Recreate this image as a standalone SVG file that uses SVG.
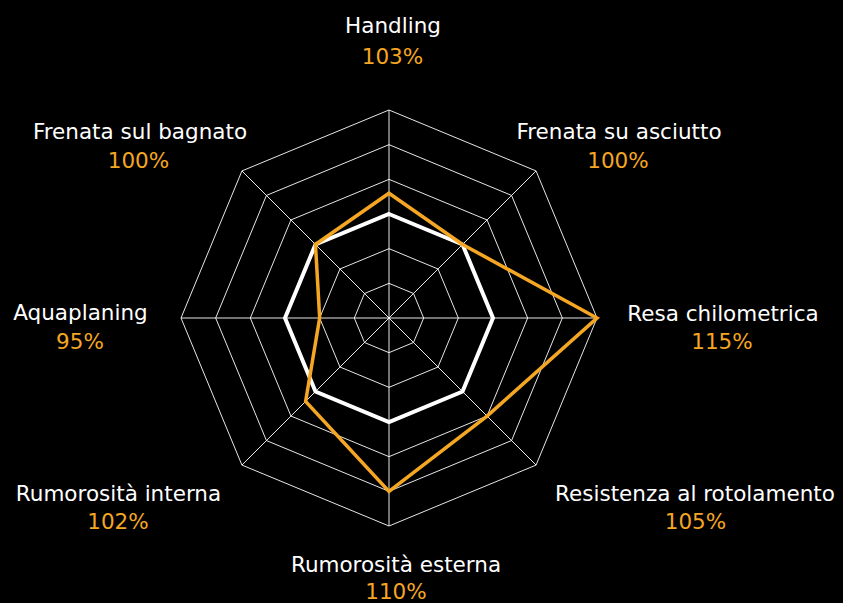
<svg xmlns="http://www.w3.org/2000/svg" width="843" height="603" viewBox="0 0 843 603">
  <style>
    .grid { fill: none; stroke: #ffffff; stroke-width: 1; stroke-opacity: 0.9; }
    .base { fill: none; stroke: #ffffff; stroke-width: 4; stroke-linejoin: miter; }
    .score { fill: none; stroke: #F5A623; stroke-width: 3.5; stroke-linejoin: miter; stroke-miterlimit: 10; }
    .name { font-family: "DejaVu Sans", "Open Sans", sans-serif; font-size: 21.5px; fill: #ffffff; text-anchor: middle; }
    .val { font-family: "DejaVu Sans", "Open Sans", sans-serif; font-size: 21.5px; fill: #F5A623; text-anchor: middle; }
  </style>
  <rect x="0" y="0" width="843" height="603" fill="#000000"/>
  <g id="chart" transform="translate(389,318)">
    <g id="grid">
      <polygon class="grid" points="0,-34.667 24.513,-24.513 34.667,0 24.513,24.513 0,34.667 -24.513,24.513 -34.667,0 -24.513,-24.513"/>
      <polygon class="grid" points="0,-69.333 49.026,-49.026 69.333,0 49.026,49.026 0,69.333 -49.026,49.026 -69.333,0 -49.026,-49.026"/>
      <polygon class="grid" points="0,-104 73.539,-73.539 104,0 73.539,73.539 0,104 -73.539,73.539 -104,0 -73.539,-73.539"/>
      <polygon class="grid" points="0,-138.667 98.052,-98.052 138.667,0 98.052,98.052 0,138.667 -98.052,98.052 -138.667,0 -98.052,-98.052"/>
      <polygon class="grid" points="0,-173.333 122.565,-122.565 173.333,0 122.565,122.565 0,173.333 -122.565,122.565 -173.333,0 -122.565,-122.565"/>
      <polygon class="grid" points="0,-208 147.078,-147.078 208,0 147.078,147.078 0,208 -147.078,147.078 -208,0 -147.078,-147.078"/>
    </g>
    <g id="connectors">
      <line class="grid" x1="0" y1="-208" x2="0" y2="208"/>
      <line class="grid" x1="-208" y1="0" x2="208" y2="0"/>
      <line class="grid" x1="-147.078" y1="-147.078" x2="147.078" y2="147.078"/>
      <line class="grid" x1="147.078" y1="-147.078" x2="-147.078" y2="147.078"/>
    </g>
    <polygon id="baseline" class="base" points="0,-104 73.539,-73.539 104,0 73.539,73.539 0,104 -73.539,73.539 -104,0 -73.539,-73.539"/>
    <polygon id="series" class="score" points="0,-124.8 73.54,-73.54 208,0 98.05,98.05 0,173.33 -83.37,83.37 -69.33,0 -73.54,-73.54"/>
  </g>
  <g id="handling"><text class="name" x="393" y="33">Handling</text><text class="val" x="392.5" y="64">103%</text></g>
  <g id="frenata-asciutto"><text class="name" x="619" y="139">Frenata su asciutto</text><text class="val" x="618" y="168">100%</text></g>
  <g id="resa"><text class="name" x="723" y="320.5">Resa chilometrica</text><text class="val" x="722" y="349">115%</text></g>
  <g id="resistenza"><text class="name" x="695" y="501">Resistenza al rotolamento</text><text class="val" x="695.5" y="528.5">105%</text></g>
  <g id="rumorosita-esterna"><text class="name" x="396" y="572">Rumorosità esterna</text><text class="val" x="396" y="599">110%</text></g>
  <g id="rumorosita-interna"><text class="name" x="118.5" y="501">Rumorosità interna</text><text class="val" x="118" y="528.5">102%</text></g>
  <g id="aquaplaning"><text class="name" x="80.5" y="320">Aquaplaning</text><text class="val" x="80" y="349">95%</text></g>
  <g id="frenata-bagnato"><text class="name" x="140" y="139">Frenata sul bagnato</text><text class="val" x="138.5" y="168">100%</text></g>
</svg>
